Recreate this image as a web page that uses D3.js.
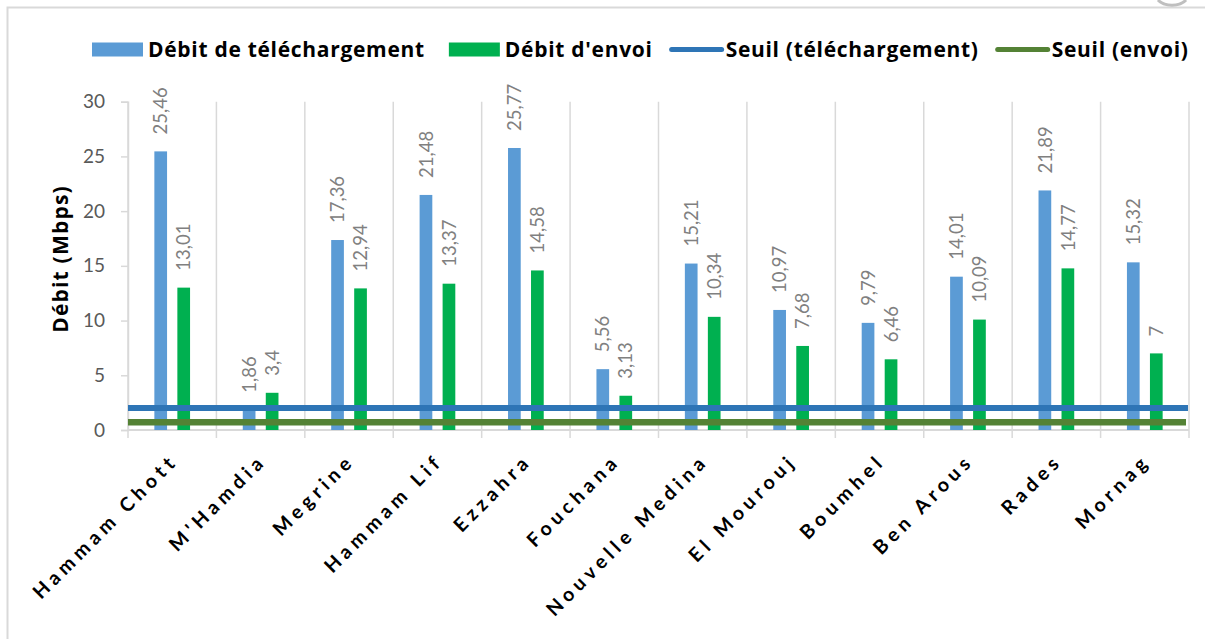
<!DOCTYPE html>
<html>
<head>
<meta charset="utf-8">
<script src="https://d3js.org/d3.v7.min.js"></script>
<style>
  body { margin: 0; background: #fff; }
  text { font-family: Lato, "Open Sans", sans-serif; }
</style>
</head>
<body>
<div id="chart"></div>
<script>

var villes = ["Hammam Chott", "M'Hamdia", "Megrine", "Hammam Lif", "Ezzahra", "Fouchana",
              "Nouvelle Medina", "El Mourouj", "Boumhel", "Ben Arous", "Rades", "Mornag"];
var debitTelechargement = [25.46, 1.86, 17.36, 21.48, 25.77, 5.56, 15.21, 10.97, 9.79, 14.01, 21.89, 15.32];
var debitEnvoi = [13.01, 3.4, 12.94, 13.37, 14.58, 3.13, 10.34, 7.68, 6.46, 10.09, 14.77, 7];
var seuilTelechargement = 2;
var seuilEnvoi = 0.7;
var yTicks = [0, 5, 10, 15, 20, 25, 30];
var legendLabels = ["Débit de téléchargement", "Débit d'envoi", "Seuil (téléchargement)", "Seuil (envoi)"];

var W = 1205, H = 639;
var margin = {top: 101.7, right: 16, bottom: 209, left: 128};
var width = W - margin.left - margin.right,
    height = H - margin.top - margin.bottom;

var svg = d3.select("#chart").append("svg")
    .attr("width", W)
    .attr("height", H);

// chart frame
svg.append("path")
    .attr("d", "M7.5," + H + "V7.5H" + W)
    .attr("fill", "none")
    .attr("stroke", "#d9d9d9")
    .attr("stroke-width", 2);

svg.append("path")
    .attr("d", "M1158,0 A16,10 0 0 0 1186,0")
    .attr("fill", "none")
    .attr("stroke", "#bfbfbf")
    .attr("stroke-width", 3);

var g = svg.append("g")
    .attr("transform", "translate(" + margin.left + "," + margin.top + ")");

var x = d3.scaleBand()
    .domain(villes)
    .range([0, width]);

var y = d3.scaleLinear()
    .domain([0, 30])
    .range([height, 0]);

var fmt = function(v) { return String(v).replace(".", ","); };

// vertical gridlines at category boundaries
var bounds = villes.map(function(d) { return x(d); }).concat([width]);
g.append("g")
    .selectAll("line")
    .data(bounds)
    .enter()
    .append("line")
    .attr("x1", function(d) { return d; })
    .attr("x2", function(d) { return d; })
    .attr("y1", 0)
    .attr("y2", height + 8)
    .attr("stroke", "#d9d9d9")
    .attr("stroke-width", 1.5);

// y axis
var yAxis = g.append("g")
    .call(d3.axisLeft(y).tickValues(yTicks).tickSize(7).tickPadding(16));
yAxis.select(".domain").attr("stroke", "#d9d9d9").attr("stroke-width", 1.5);
yAxis.selectAll(".tick line").attr("stroke", "#d9d9d9").attr("stroke-width", 1.5);
yAxis.selectAll(".tick text")
    .attr("fill", "#595959")
    .style("font-size", "19px")
    .style("font-family", "Lato, sans-serif");

// x axis line
g.append("line")
    .attr("x1", 0)
    .attr("x2", width)
    .attr("y1", height)
    .attr("y2", height)
    .attr("stroke", "#d9d9d9")
    .attr("stroke-width", 2);

var bw = 12.7, off = 11.5;

var barData = villes.map(function(d, i) {
    return {ville: d, tel: debitTelechargement[i], env: debitEnvoi[i]};
});

// bars
g.append("g")
    .selectAll("rect")
    .data(barData)
    .enter()
    .append("rect")
    .attr("x", function(d) { return x(d.ville) + x.bandwidth() / 2 - off - bw / 2; })
    .attr("y", function(d) { return y(d.tel); })
    .attr("width", bw)
    .attr("height", function(d) { return height - y(d.tel); })
    .attr("fill", "#5b9bd5");

g.append("g")
    .selectAll("rect")
    .data(barData)
    .enter()
    .append("rect")
    .attr("x", function(d) { return x(d.ville) + x.bandwidth() / 2 + off - bw / 2; })
    .attr("y", function(d) { return y(d.env); })
    .attr("width", bw)
    .attr("height", function(d) { return height - y(d.env); })
    .attr("fill", "#00b050");

// threshold lines
g.append("line")
    .attr("x1", 0).attr("x2", width - 1)
    .attr("y1", y(seuilTelechargement)).attr("y2", y(seuilTelechargement))
    .attr("stroke", "#2e75b6")
    .attr("stroke-width", 6);

g.append("line")
    .attr("x1", 0).attr("x2", width - 3)
    .attr("y1", y(seuilEnvoi)).attr("y2", y(seuilEnvoi))
    .attr("stroke", "#548235")
    .attr("stroke-width", 6.5);

// data labels
function labels(key, dx) {
    g.append("g")
        .selectAll("text")
        .data(barData)
        .enter()
        .append("text")
        .attr("transform", function(d) {
            return "translate(" + (x(d.ville) + x.bandwidth() / 2 + dx) + "," + (y(d[key]) - 17) + ") rotate(-90)";
        })
        .attr("dy", "0.36em")
        .attr("fill", "#808080")
        .style("font-size", "18.5px")
        .text(function(d) { return fmt(d[key]); });
}
labels("tel", -off);
labels("env", off);

// x labels
g.append("g")
    .selectAll("text")
    .data(villes)
    .enter()
    .append("text")
    .attr("transform", function(d) {
        return "translate(" + (x(d) + x.bandwidth() / 2 + 7) + "," + (height + 32) + ") rotate(-45)";
    })
    .attr("text-anchor", "end")
    .attr("fill", "#000")
    .style("font-size", "19.5px")
    .style("font-weight", "bold")
    .style("letter-spacing", "4.8px")
    .text(function(d) { return d; });

// y title
svg.append("text")
    .attr("transform", "translate(68,259) rotate(-90)")
    .attr("text-anchor", "middle")
    .style("font-family", "'Open Sans', sans-serif")
    .style("font-size", "21px")
    .style("font-weight", "bold")
    .style("letter-spacing", "1.2px")
    .text("Débit (Mbps)");

// legend
var legend = svg.append("g").attr("transform", "translate(92,49.5)");
var lx = 0;
legendLabels.forEach(function(lab, i) {
    var item = legend.append("g").attr("transform", "translate(" + lx + ",0)");
    if (i < 2) {
        item.append("rect")
            .attr("x", 0).attr("y", -7)
            .attr("width", 51).attr("height", 14)
            .attr("fill", i == 0 ? "#5b9bd5" : "#00b050");
    } else {
        item.append("line")
            .attr("x1", 2).attr("x2", 52)
            .attr("y1", 0).attr("y2", 0)
            .attr("stroke", i == 2 ? "#2e75b6" : "#548235")
            .attr("stroke-width", 5)
            .attr("stroke-linecap", "round");
    }
    var t = item.append("text")
        .attr("x", 56)
        .attr("dy", "0.36em")
        .style("font-family", "'Open Sans', sans-serif")
        .style("font-size", "21px")
        .style("font-weight", "bold")
        .style("letter-spacing", "0.7px")
        .text(lab);
    lx += 56 + t.node().getComputedTextLength() + (i == 0 ? 24 : 17);
});

</script>
</body>
</html>
